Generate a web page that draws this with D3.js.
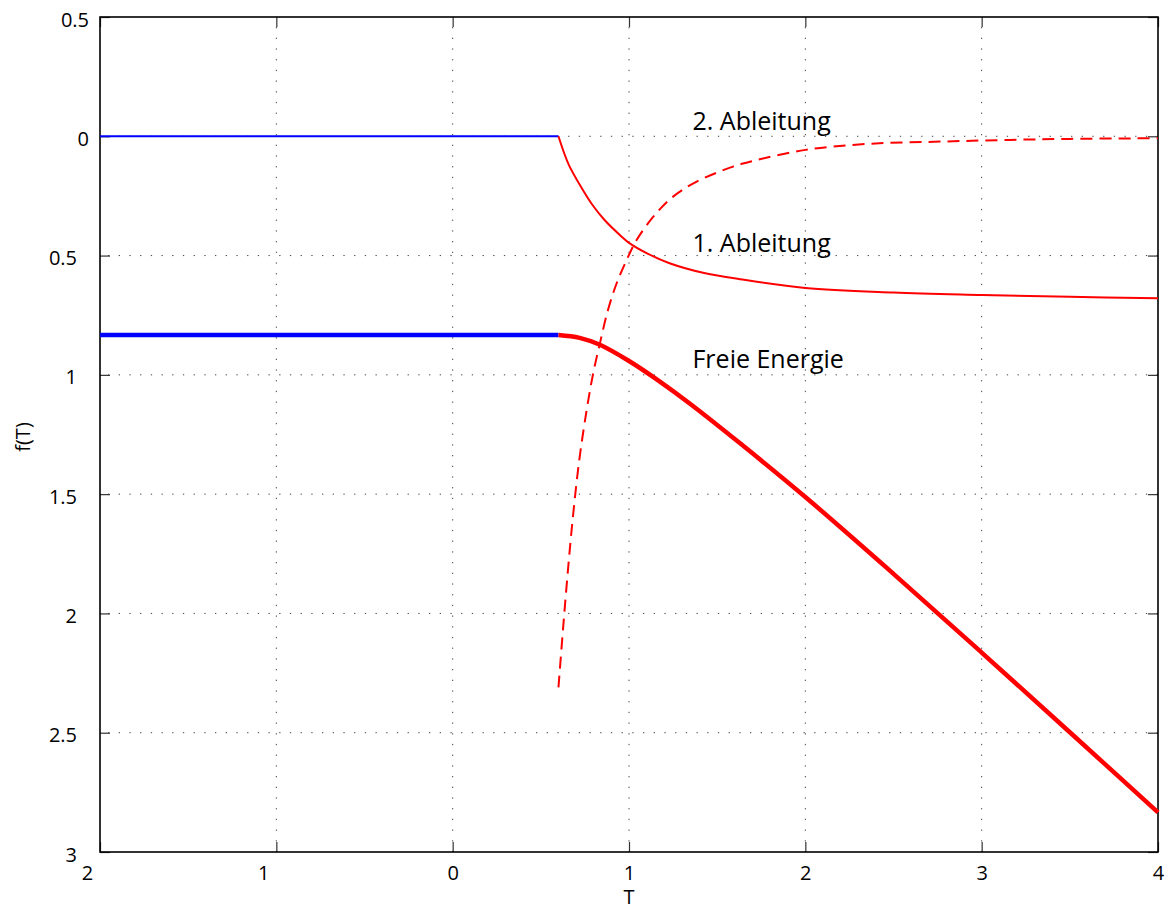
<!DOCTYPE html>
<html>
<head>
<meta charset="utf-8">
<script src="https://cdn.jsdelivr.net/npm/d3@7"></script>
<style>
  body { margin: 0; background: #fff; }
  svg text { font-family: "Open Sans", "Noto Sans", sans-serif; }
</style>
</head>
<body>
<svg id="chart" width="1165" height="907"></svg>
<script>
// values
var xTicks = [-2, -1, 0, 1, 2, 3, 4];
var yTicks = [0.5, 0, -0.5, -1, -1.5, -2, -2.5, -3];

// ordered phase (T below T0), blue
var flatT = [-2, 0.6];
var flatDeriv = [0, 0];
var flatFree = [-0.833, -0.833];

// disordered phase, red
var derivT = [0.6, 0.63, 0.66, 0.73, 0.79, 0.86, 0.96, 1.0, 1.1, 1.23, 1.42, 1.63, 2.0, 2.5, 3.0, 3.5, 4.0];
var deriv1 = [0, -0.066, -0.122, -0.215, -0.285, -0.35, -0.422, -0.447, -0.49, -0.532, -0.572, -0.599, -0.636, -0.655, -0.665, -0.673, -0.679];

var deriv2T = [0.6, 0.627, 0.656, 0.684, 0.718, 0.76, 0.797, 0.835, 0.88, 0.93, 0.987, 1.043, 1.138, 1.25, 1.384, 1.59, 1.69, 2.0, 2.35, 2.73, 3.1, 3.5, 4.0];
var deriv2 = [-2.31, -2.055, -1.80, -1.58, -1.357, -1.147, -0.993, -0.868, -0.73, -0.616, -0.518, -0.435, -0.337, -0.253, -0.19, -0.127, -0.106, -0.057, -0.032, -0.023, -0.016, -0.011, -0.008];

var freeT = [0.6, 0.72, 0.835, 1.0, 1.157, 1.346, 1.63, 2.0, 2.5, 3.0, 3.5, 4.0];
var free = [-0.833, -0.845, -0.874, -0.942, -1.019, -1.121, -1.287, -1.512, -1.834, -2.164, -2.498, -2.834];

var labelNames = ["2. Ableitung", "1. Ableitung", "Freie Energie"];
var labelT = [1.36, 1.36, 1.36];
var labelF = [0.026, -0.484, -0.972];

var svg = d3.select("#chart"),
    pLeft = 100, pRight = 1158, pTop = 17, pBottom = 852;

var x = d3.scaleLinear().domain([-2, 4]).range([pLeft, pRight]);
var y = d3.scaleLinear().domain([-3, 0.5]).range([pBottom, pTop]);

function pts(ts, vs) {
    return ts.map(function(t, i) { return [t, vs[i]]; });
}

// dotted grid
var grid = svg.append("g")
    .attr("stroke", "#444")
    .attr("stroke-width", 1)
    .attr("stroke-dasharray", "1.3,9.4");

grid.selectAll(".gx")
    .data(xTicks.slice(1, -1))
    .enter().append("line")
    .attr("x1", function(d) { return x(d); })
    .attr("x2", function(d) { return x(d); })
    .attr("y1", pTop + 10)
    .attr("y2", pBottom);

grid.selectAll(".gy")
    .data(yTicks.slice(1, -1))
    .enter().append("line")
    .attr("x1", pLeft + 8)
    .attr("x2", pRight)
    .attr("y1", function(d) { return y(d); })
    .attr("y2", function(d) { return y(d); });

function fmt(d) { return String(Math.abs(d)); }

// axes, ticks pointing inward
var xAxis = svg.append("g")
    .attr("transform", "translate(0," + pBottom + ")")
    .call(d3.axisBottom(x).tickValues(xTicks).tickFormat(fmt)
        .tickSizeInner(-10).tickSizeOuter(0).tickPadding(14));

svg.append("g")
    .attr("transform", "translate(0," + pTop + ")")
    .call(d3.axisTop(x).tickValues(xTicks).tickFormat("")
        .tickSizeInner(-10).tickSizeOuter(0));

var yAxis = svg.append("g")
    .attr("transform", "translate(" + pLeft + ",0)")
    .call(d3.axisLeft(y).tickValues(yTicks).tickFormat(fmt)
        .tickSizeInner(-10).tickSizeOuter(0).tickPadding(11));

svg.append("g")
    .attr("transform", "translate(" + pRight + ",0)")
    .call(d3.axisRight(y).tickValues(yTicks).tickFormat("")
        .tickSizeInner(-10).tickSizeOuter(0));

svg.selectAll(".domain").remove();
svg.selectAll(".tick line").attr("stroke", "#333").attr("stroke-width", 1.2);

xAxis.selectAll("text")
    .attr("font-size", 20)
    .attr("fill", "#000")
    .attr("dx", function(d) { return d < 0 ? -13 : 0; });

yAxis.selectAll("text")
    .attr("font-size", 20)
    .attr("fill", "#000")
    .attr("dy", "0.45em")
    .attr("dx", function(d) { return d < 0 ? -12 : 0; });

// frame
svg.append("rect")
    .attr("x", pLeft)
    .attr("y", pTop)
    .attr("width", pRight - pLeft)
    .attr("height", pBottom - pTop)
    .attr("fill", "none")
    .attr("stroke", "#000")
    .attr("stroke-width", 1.6);

// axis titles
svg.append("text")
    .attr("x", (pLeft + pRight) / 2)
    .attr("y", 904)
    .attr("text-anchor", "middle")
    .attr("font-size", 20)
    .text("T");

svg.append("text")
    .attr("transform", "translate(30,437) rotate(-90)")
    .attr("text-anchor", "middle")
    .attr("font-size", 20)
    .text("f(T)");

// curves
var line = d3.line()
    .x(function(d) { return x(d[0]); })
    .y(function(d) { return y(d[1]); })
    .curve(d3.curveCatmullRom.alpha(0.5));

var plot = svg.append("g").attr("fill", "none").attr("stroke-linecap", "butt");

plot.append("path")
    .datum(pts(flatT, flatDeriv))
    .attr("d", line)
    .attr("stroke", "#0000ff")
    .attr("stroke-width", 2);

plot.append("path")
    .datum(pts(flatT, flatFree))
    .attr("d", line)
    .attr("stroke", "#0000ff")
    .attr("stroke-width", 4.5);

plot.append("path")
    .datum(pts(derivT, deriv1))
    .attr("d", line)
    .attr("stroke", "#ff0000")
    .attr("stroke-width", 2);

plot.append("path")
    .datum(pts(deriv2T, deriv2))
    .attr("d", line)
    .attr("stroke", "#ff0000")
    .attr("stroke-width", 2)
    .attr("stroke-dasharray", "12,7");

plot.append("path")
    .datum(pts(freeT, free))
    .attr("d", line)
    .attr("stroke", "#ff0000")
    .attr("stroke-width", 4.5);

// curve labels
svg.selectAll(".label")
    .data(labelNames)
    .enter().append("text")
    .attr("class", "label")
    .attr("x", function(d, i) { return x(labelT[i]); })
    .attr("y", function(d, i) { return y(labelF[i]); })
    .attr("font-size", 25)
    .attr("fill", "#000")
    .text(function(d) { return d; });
</script>
</body>
</html>
